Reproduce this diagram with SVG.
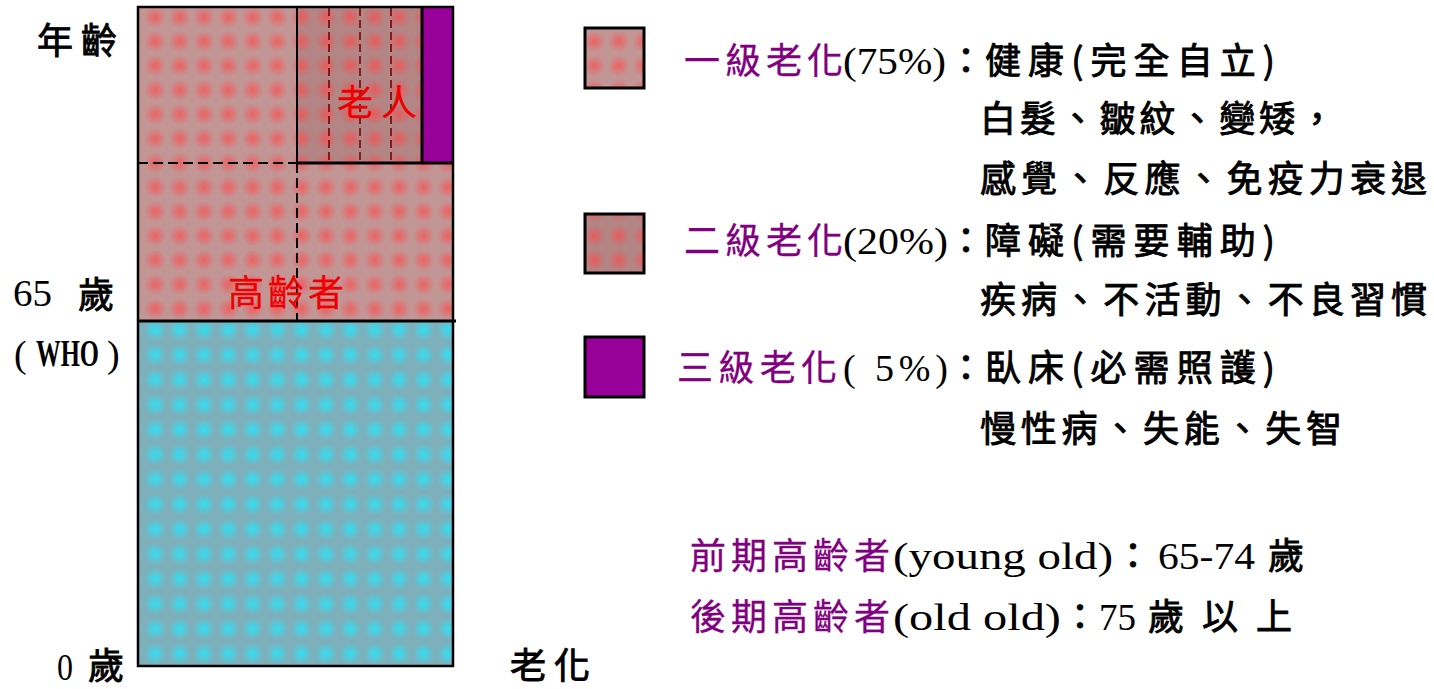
<svg xmlns="http://www.w3.org/2000/svg" width="1434" height="689" viewBox="0 0 1434 689">
<style>
.cjk{font-family:"Noto Sans CJK TC","Noto Sans CJK SC",sans-serif;font-size:36px;fill:#000;stroke:#000;stroke-width:0.9}
.lat{font-family:"Liberation Serif",serif;font-size:38px;fill:#000}
.pur{fill:#800080;stroke:#800080;stroke-width:0.3}
.red{fill:#ee0000;stroke:#ee0000;stroke-width:0.3}
.box{stroke:#000;stroke-width:3}
.solid{stroke:#000;fill:none}
.dash{stroke:#000;stroke-width:2;stroke-dasharray:10 5;fill:none}
.rdash{stroke:#7a0000;stroke-width:1.6;stroke-dasharray:8 4;fill:none}
</style>
<defs>
<radialGradient id="gRed"><stop offset="0" stop-color="#ff4a4a" stop-opacity="0.7"/><stop offset="1" stop-color="#ff4a4a" stop-opacity="0"/></radialGradient>
<radialGradient id="gCyan"><stop offset="0" stop-color="#20eaff" stop-opacity="0.8"/><stop offset="1" stop-color="#20eaff" stop-opacity="0"/></radialGradient>
<pattern id="pPink" patternUnits="userSpaceOnUse" x="143" y="5" width="24.4" height="24.3">
<rect width="24.4" height="24.3" fill="#c39696"/><circle cx="12.2" cy="12.15" r="11" fill="url(#gRed)"/>
</pattern>
<pattern id="pDark" patternUnits="userSpaceOnUse" x="143" y="5" width="24.4" height="24.3">
<rect width="24.4" height="24.3" fill="#b38585"/><circle cx="12.2" cy="12.15" r="11" fill="url(#gRed)"/>
</pattern>
<pattern id="pCyan" patternUnits="userSpaceOnUse" x="143" y="317.5" width="24.4" height="24.9">
<rect width="24.4" height="24.9" fill="#7eb0bc"/><circle cx="12.2" cy="12.45" r="11" fill="url(#gCyan)"/>
</pattern>
</defs>
<rect width="1434" height="689" fill="#fff"/>

<g id="chart">
<rect id="young" x="138" y="321" width="315" height="345" fill="url(#pCyan)"/>
<rect id="elder" x="138" y="7" width="315" height="314" fill="url(#pPink)"/>
<rect id="old-person" x="297" y="7" width="125" height="156" fill="url(#pDark)"/>
<rect id="level3-bar" x="422" y="7" width="31" height="156" fill="#990099"/>
</g>

<g id="dividers">
<line class="rdash" x1="329" y1="8" x2="329" y2="162"/>
<line class="rdash" x1="360" y1="8" x2="360" y2="162"/>
<line class="rdash" x1="391" y1="8" x2="391" y2="162"/>
<line class="dash" x1="138" y1="163" x2="297" y2="163"/>
<line class="dash" x1="297" y1="163" x2="297" y2="321"/>
<line class="solid" stroke-width="2" x1="297" y1="7" x2="297" y2="163"/>
<line class="solid" stroke-width="3" x1="297" y1="163" x2="453" y2="163"/>
<line class="solid" stroke-width="3" x1="422" y1="7" x2="422" y2="163"/>
<line class="solid" stroke-width="3" x1="137" y1="321" x2="456" y2="321"/>
<rect class="solid" stroke-width="2.5" x="138" y="7" width="315" height="659"/>
</g>

<g id="chart-labels">
<text class="cjk red" x="337" y="116" textLength="80" lengthAdjust="spacing">老人</text>
<text class="cjk red" x="228" y="306" textLength="116" lengthAdjust="spacing">高齡者</text>
</g>

<g id="axis-labels">
<text class="cjk" x="37" y="54" font-size="38" textLength="80" lengthAdjust="spacing">年齡</text>
<text class="lat" x="13" y="306" font-size="48" textLength="39" lengthAdjust="spacingAndGlyphs">65</text>
<text class="cjk" x="78" y="308" font-size="38">歲</text>
<text class="lat" x="14" y="367" font-size="40">(</text>
<text class="lat" x="36" y="366" font-size="40" font-weight="bold" textLength="63" lengthAdjust="spacingAndGlyphs">WHO</text>
<text class="lat" x="107" y="367" font-size="40">)</text>
<text class="lat" x="57" y="680" font-size="48" textLength="16" lengthAdjust="spacingAndGlyphs">0</text>
<text class="cjk" x="88" y="679" font-size="38">歲</text>
<text class="cjk" x="510" y="679" font-size="38" textLength="80" lengthAdjust="spacing">老化</text>
</g>

<g id="legend-1">
<rect class="box" x="585" y="28" width="59" height="60" fill="url(#pPink)"/>
<text class="cjk pur" x="684" y="74" textLength="159" lengthAdjust="spacing">一級老化</text>
<text class="lat" x="843" y="74" font-size="40" textLength="103" lengthAdjust="spacingAndGlyphs">(75%)</text>
<text class="cjk" x="948" y="74">：</text>
<text class="cjk" x="985" y="74" textLength="290" lengthAdjust="spacing">健康(完全自立)</text>
<text class="cjk" x="980" y="132" textLength="355" lengthAdjust="spacing">白髮、皺紋、變矮，</text>
<text class="cjk" x="980" y="192" textLength="447" lengthAdjust="spacing">感覺、反應、免疫力衰退</text>
</g>

<g id="legend-2">
<rect class="box" x="585" y="214" width="59" height="59" fill="url(#pDark)"/>
<text class="cjk pur" x="684" y="254" textLength="159" lengthAdjust="spacing">二級老化</text>
<text class="lat" x="843" y="254" font-size="40" textLength="105" lengthAdjust="spacingAndGlyphs">(20%)</text>
<text class="cjk" x="948" y="254">：</text>
<text class="cjk" x="985" y="254" textLength="290" lengthAdjust="spacing">障礙(需要輔助)</text>
<text class="cjk" x="980" y="313" textLength="447" lengthAdjust="spacing">疾病、不活動、不良習慣</text>
</g>

<g id="legend-3">
<rect class="box" x="585" y="337" width="59" height="60" fill="#990099"/>
<text class="cjk pur" x="677" y="381" textLength="160" lengthAdjust="spacing">三級老化</text>
<text class="lat" x="843" y="381" font-size="40" textLength="105" lengthAdjust="spacing">( 5%)</text>
<text class="cjk" x="948" y="381">：</text>
<text class="cjk" x="985" y="381" textLength="290" lengthAdjust="spacing">臥床(必需照護)</text>
<text class="cjk" x="980" y="442" textLength="362" lengthAdjust="spacing">慢性病、失能、失智</text>
</g>

<g id="note-young-old">
<text class="cjk pur" x="690" y="569" textLength="200" lengthAdjust="spacing">前期高齡者</text>
<text class="lat" x="893" y="569" font-size="42" textLength="220" lengthAdjust="spacingAndGlyphs">(young old)</text>
<text class="cjk" x="1115" y="569">：</text>
<text class="lat" x="1158" y="569" font-size="42" textLength="97" lengthAdjust="spacingAndGlyphs">65-74</text>
<text class="cjk" x="1268" y="569" font-size="40">歲</text>
</g>

<g id="note-old-old">
<text class="cjk pur" x="690" y="630" textLength="200" lengthAdjust="spacing">後期高齡者</text>
<text class="lat" x="893" y="630" font-size="42" textLength="168" lengthAdjust="spacingAndGlyphs">(old old)</text>
<text class="cjk" x="1062" y="630">：</text>
<text class="lat" x="1099" y="630" font-size="42" textLength="37" lengthAdjust="spacingAndGlyphs">75</text>
<text class="cjk" x="1148" y="630" font-size="42" textLength="144" lengthAdjust="spacing">歲以上</text>
</g>
</svg>
